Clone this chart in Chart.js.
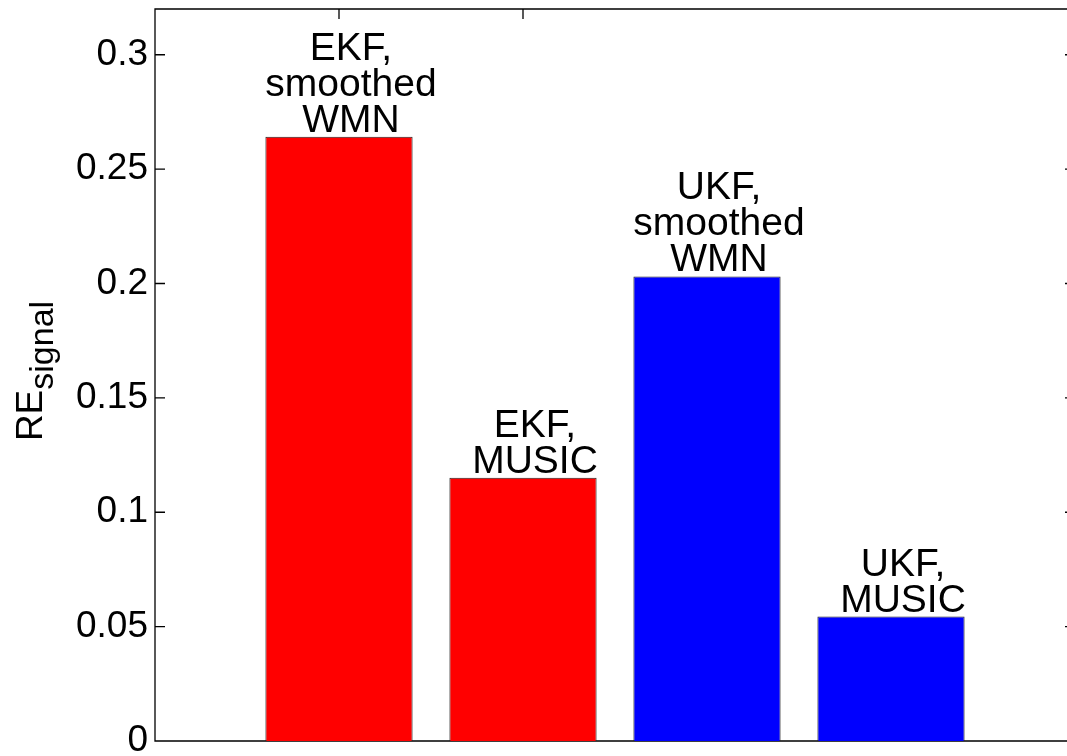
<!DOCTYPE html>
<html>
<head>
<meta charset="utf-8">
<script src="https://cdn.jsdelivr.net/npm/chart.js@4.4.1/dist/chart.umd.min.js"></script>
<style>
  html, body { margin: 0; padding: 0; background: #fff; overflow: hidden; }
  #wrap { position: absolute; left: 0; top: 0; width: 1085px; height: 756px; }
</style>
</head>
<body>
<div id="wrap"><canvas id="c" width="1085" height="756"></canvas></div>
<script>
// Bar positions on the x axis and their values
const barPositions = [1, 2, 3, 4];
const barValues = [0.2642, 0.1151, 0.2031, 0.0544];
const barColors = ['#ff0000', '#ff0000', '#0000ff', '#0000ff'];
const barLabels = [
  ['EKF,', 'smoothed', 'WMN'],
  ['EKF,', 'MUSIC'],
  ['UKF,', 'smoothed', 'WMN'],
  ['UKF,', 'MUSIC']
];

// Axis ticks
const yTickValues = [0, 0.05, 0.1, 0.15, 0.2, 0.25, 0.3];
const yTickLabels = ['0', '0.05', '0.1', '0.15', '0.2', '0.25', '0.3'];
const xTickValues = [1, 2];
const yLabelMain = 'RE';
const yLabelSub = 'signal';

const FONT = '"Liberation Sans", Arial, Helvetica, sans-serif';
const FS = 37;
const LABEL_FS = 39;

// Box frame with inward tick marks, drawn beneath the bars
const framePlugin = {
  id: 'frame',
  beforeDatasetsDraw(chart) {
    const { ctx, chartArea: a, scales } = chart;
    const y = scales.y, x = scales.x;
    const tl = 10;
    ctx.save();
    ctx.strokeStyle = '#000';
    ctx.lineWidth = 1.3;
    ctx.beginPath();
    ctx.rect(a.left, a.top, a.right - a.left, a.bottom - a.top);
    for (const v of yTickValues) {
      const py = y.getPixelForValue(v);
      ctx.moveTo(a.left, py); ctx.lineTo(a.left + tl, py);
      ctx.moveTo(a.right, py); ctx.lineTo(a.right - tl, py);
    }
    for (const v of xTickValues) {
      const px = x.getPixelForValue(v);
      ctx.moveTo(px, a.top); ctx.lineTo(px, a.top + tl);
      ctx.moveTo(px, a.bottom); ctx.lineTo(px, a.bottom - tl);
    }
    ctx.stroke();
    ctx.restore();
  }
};

// Text above each bar and the rotated y-axis label
const textPlugin = {
  id: 'texts',
  afterDatasetsDraw(chart) {
    const { ctx } = chart;
    const meta = chart.getDatasetMeta(0);
    ctx.save();
    ctx.fillStyle = '#000';
    ctx.font = LABEL_FS + 'px ' + FONT;
    ctx.textAlign = 'center';
    ctx.textBaseline = 'alphabetic';
    const lineH = 36;
    meta.data.forEach((bar, i) => {
      const lines = barLabels[i];
      let base = bar.y - 5;
      for (let k = lines.length - 1; k >= 0; k--) {
        ctx.fillText(lines[k], bar.x + 12, base);
        base -= lineH;
      }
    });
    ctx.restore();

    // y-axis label: RE with subscript "signal", rotated
    const a = chart.chartArea;
    const cy = (a.top + a.bottom) / 2;
    ctx.save();
    ctx.translate(42, cy - 4);
    ctx.rotate(-Math.PI / 2);
    ctx.fillStyle = '#000';
    ctx.textBaseline = 'alphabetic';
    ctx.textAlign = 'left';
    const mainFont = FS + 'px ' + FONT;
    const subFont = '34px ' + FONT;
    ctx.font = mainFont;
    const wMain = ctx.measureText(yLabelMain).width;
    ctx.font = subFont;
    const wSub = ctx.measureText(yLabelSub).width;
    const start = -(wMain + wSub) / 2;
    ctx.font = mainFont;
    ctx.fillText(yLabelMain, start, 0);
    ctx.font = subFont;
    ctx.fillText(yLabelSub, start + wMain, 11);
    ctx.restore();
  }
};

new Chart(document.getElementById('c'), {
  type: 'bar',
  data: {
    datasets: [{
      data: barPositions.map((p, i) => ({ x: p, y: barValues[i] })),
      backgroundColor: barColors,
      borderColor: '#222',
      borderWidth: 1,
      categoryPercentage: 1.0,
      barPercentage: 0.8
    }]
  },
  options: {
    responsive: false,
    animation: false,
    devicePixelRatio: 1,
    layout: { padding: { left: 0, top: 9, right: 10, bottom: 15 } },
    plugins: { legend: { display: false }, tooltip: { enabled: false } },
    scales: {
      x: {
        type: 'linear',
        min: 0, max: 5,
        offset: false,
        display: false,
        ticks: { stepSize: 1 },
        grid: { display: false, offset: false }
      },
      y: {
        min: 0, max: 0.32,
        grid: { display: false, drawTicks: false },
        border: { display: false },
        afterBuildTicks(scale) { scale.ticks = yTickValues.map(v => ({ value: v })); },
        afterFit(scale) {
          scale.width = 155;
          scale.paddingTop = 0;
          scale.paddingBottom = 0;
        },
        ticks: {
          color: '#000',
          padding: 7,
          font: { family: FONT, size: FS },
          callback(v, i) { return yTickLabels[i]; }
        }
      }
    }
  },
  plugins: [framePlugin, textPlugin]
});
</script>
</body>
</html>
